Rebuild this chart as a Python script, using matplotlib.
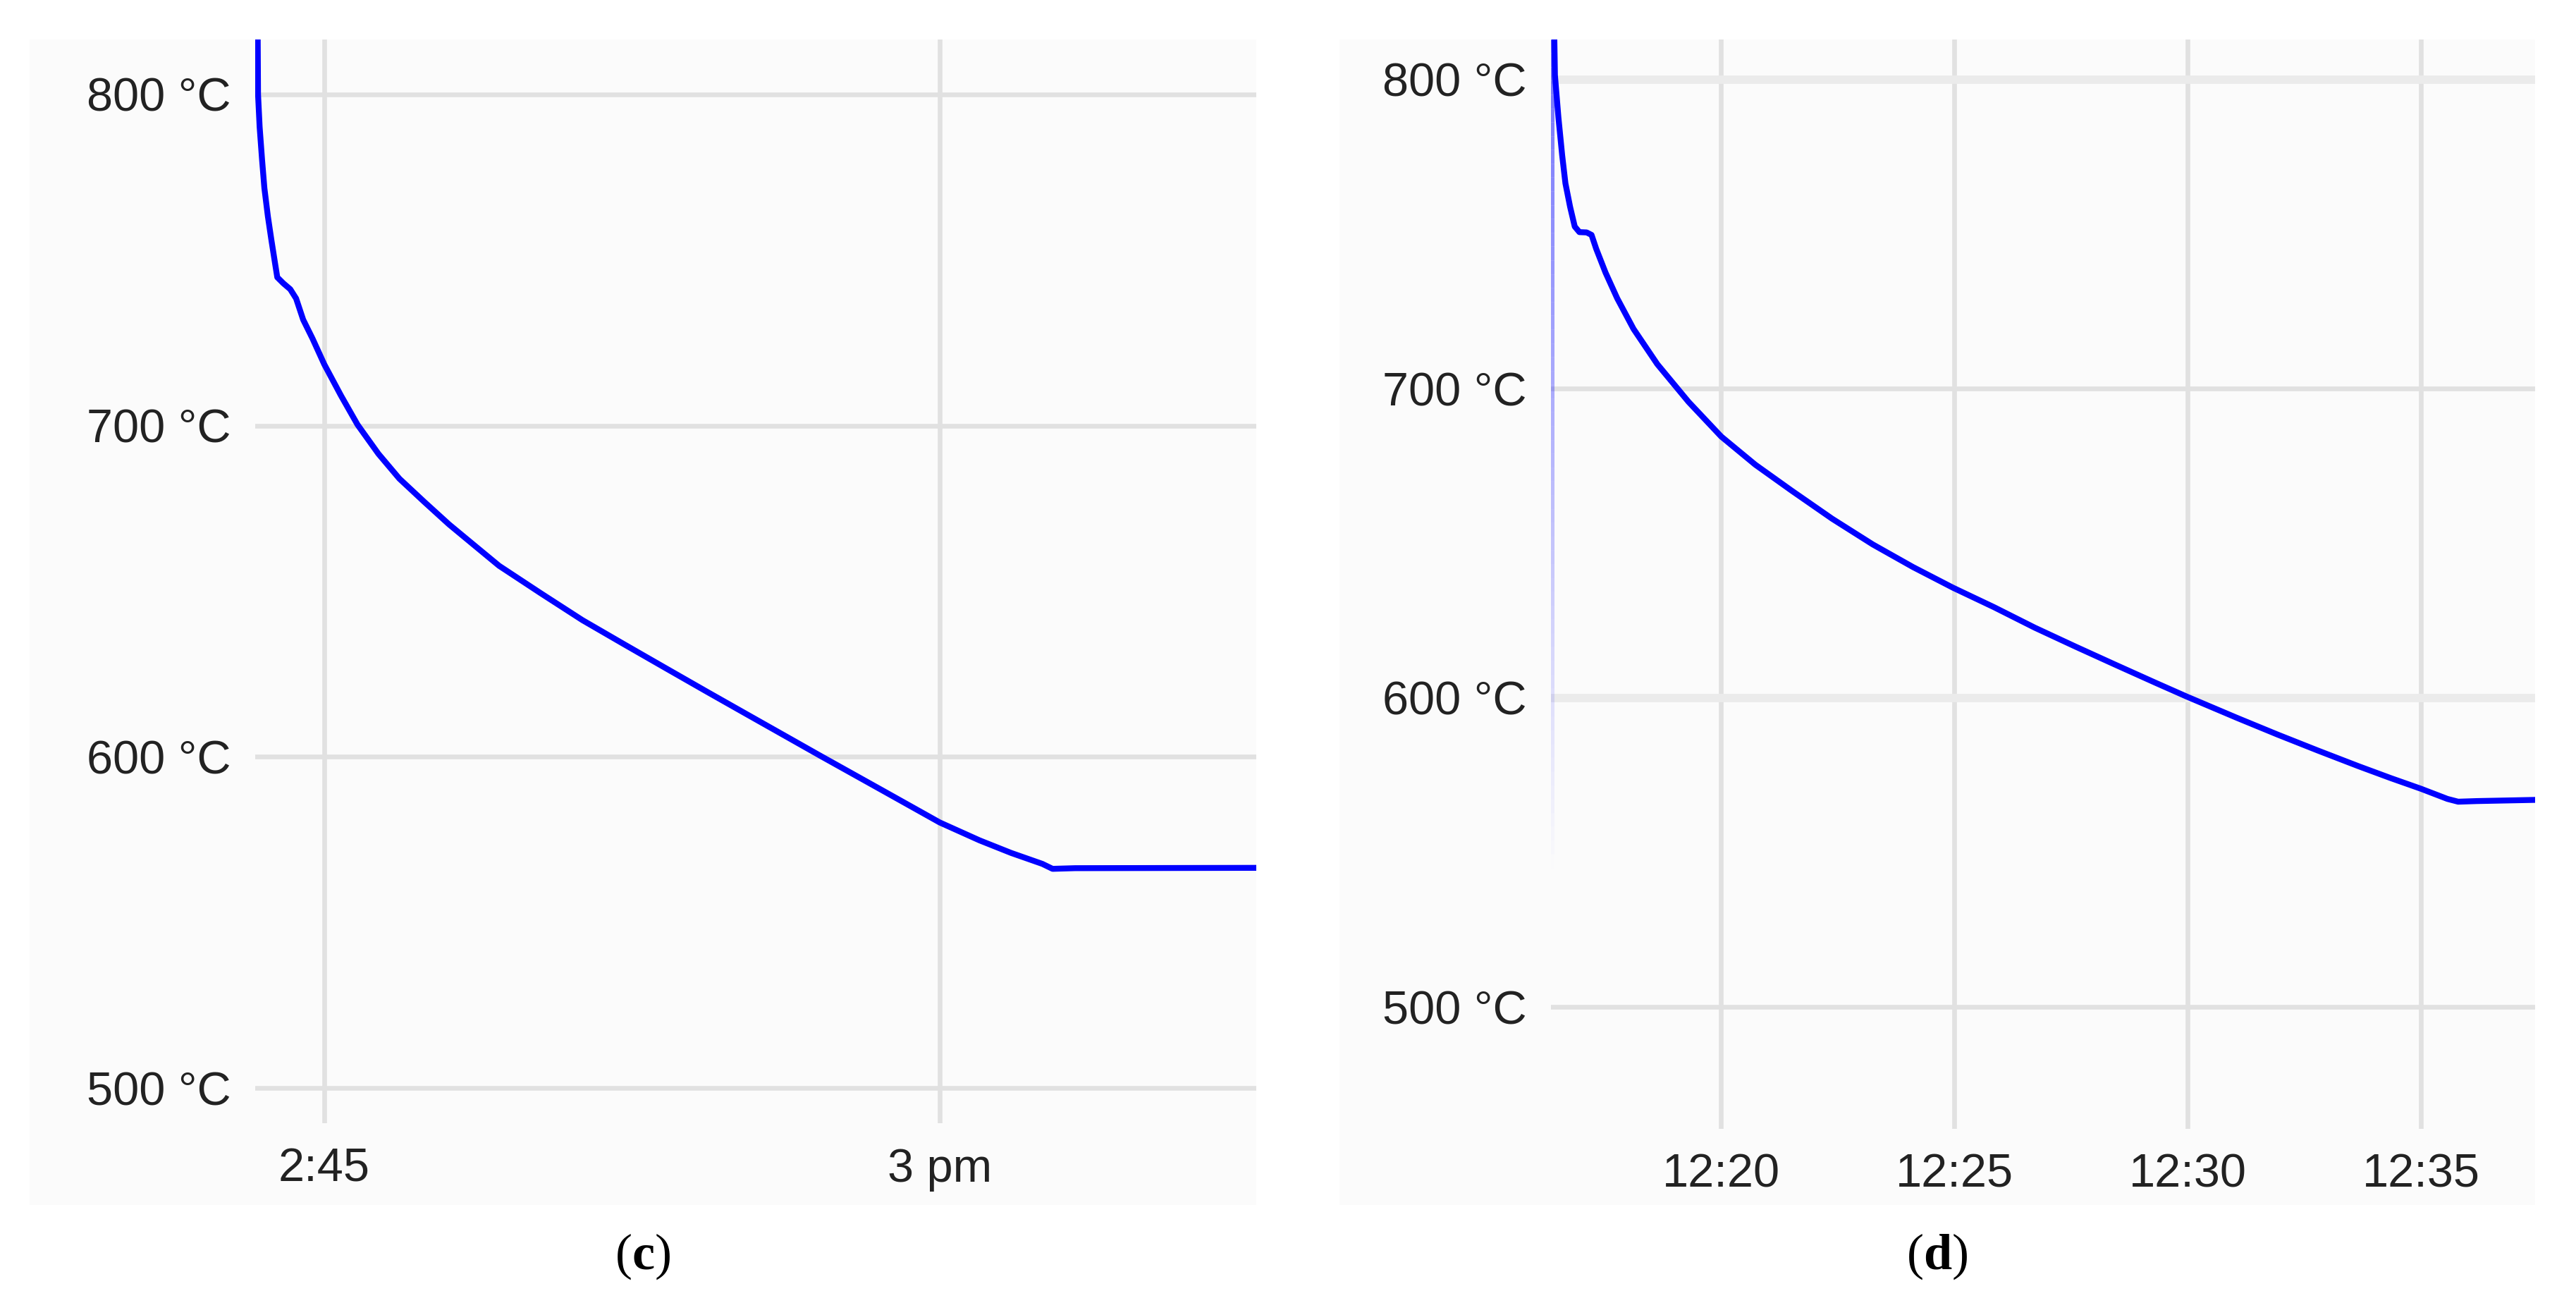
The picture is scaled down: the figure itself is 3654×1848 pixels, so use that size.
import numpy as np
import matplotlib
matplotlib.use("Agg")
import matplotlib.pyplot as plt
from matplotlib.patches import Rectangle
from matplotlib.collections import LineCollection

plt.rcParams['font.family'] = ['Liberation Sans', 'DejaVu Sans']
plt.rcParams['mathtext.fontset'] = 'custom'
plt.rcParams['mathtext.rm'] = 'Liberation Serif'
plt.rcParams['mathtext.bf'] = 'Liberation Serif:bold'

# ---------------- data ----------------
# Panel (c): time in minutes after 14:00, temperature in °C
c_time = [43.375, 43.385, 43.424, 43.483, 43.54, 43.625, 43.71, 43.80, 43.854,
          44.0, 44.17, 44.313, 44.485, 44.713, 45.0, 45.406, 45.81, 46.319,
          46.83, 47.436, 48.04, 48.654, 49.26, 50.277, 51.29, 52.307, 53.32,
          54.337, 55.35, 56.366, 57.08, 58.6, 60.0, 60.97, 61.74, 62.5, 62.75,
          63.3, 67.8]
c_temp = [822, 800.1, 790.2, 780.3, 771.7, 763.2, 756.1, 749.0, 744.8,
          743.0, 741.2, 738.4, 732.0, 726.3, 718.5, 709.1, 700.3, 691.5,
          684.0, 677.0, 670.2, 663.9, 657.7, 649.4, 641.3, 634.0, 626.8,
          619.6, 612.5, 605.4, 600.4, 589.9, 580.2, 574.8, 571.0, 567.7, 566.2,
          566.4, 566.5]
c_xticks = [45, 60]
c_xlabels = ["2:45", "3 pm"]

# Panel (d): time in minutes after 12:00, temperature in °C
d_time = [16.41, 16.435, 16.51, 16.59, 16.66, 16.76, 16.86, 16.96, 17.115,
          17.22, 17.32, 17.52, 17.77, 18.12, 18.63, 19.3, 20.0, 20.73, 21.51,
          22.38, 23.25, 24.11, 24.97, 25.85, 26.72, 27.59, 28.45, 29.32, 29.98,
          31.06, 31.93, 32.8, 33.66, 34.36, 35.0, 35.57, 35.8, 36.2, 37.5]
d_temp = [825, 801.4, 787.7, 775.5, 766.4, 758.8, 752.4, 750.6, 750.5,
          749.7, 745.2, 737.5, 729.2, 719.3, 707.9, 695.7, 684.5, 675.4, 667.0,
          657.9, 649.6, 642.3, 635.6, 629.3, 622.7, 616.6, 610.7, 604.8, 600.4,
          593.5, 588.1, 582.9, 577.9, 574.0, 570.6, 567.3, 566.4, 566.6, 567.0]
d_faint_time = 16.385
d_faint_range = [545, 813]
d_xticks = [20, 25, 30, 35]
d_xlabels = ["12:20", "12:25", "12:30", "12:35"]

y_ticks = [500, 600, 700, 800]
y_labels = ["500 °C", "600 °C", "700 °C", "800 °C"]
captions = ["c", "d"]

# ---------------- figure ----------------
W, H = 3655, 1848
fig = plt.figure(figsize=(W / 100, H / 100), dpi=100, facecolor='white')

def fx(px):
    return px / W

def fy(py):
    return 1 - py / H

BG = '#fbfbfb'
GRID = '#e1e1e1'
BLUE = '#0000ff'

# panel backgrounds (behind the axes)
for (x0, x1) in [(42, 1782), (1900, 3596)]:
    fig.patches.append(Rectangle((fx(x0), fy(1709)), fx(x1) - fx(x0), fy(56) - fy(1709),
                                 transform=fig.transFigure, facecolor=BG,
                                 edgecolor='none', zorder=-5))

ax_c = fig.add_axes([fx(362), fy(1593), fx(1782) - fx(362), fy(56) - fy(1593)])
ax_d = fig.add_axes([fx(2200), fy(1601), fx(3596) - fx(2200), fy(56) - fy(1601)])


def style(ax, xlim, ylim, xticks, xlabels):
    ax.set_zorder(2)
    ax.set_facecolor('none')
    ax.set_xlim(*xlim)
    ax.set_ylim(*ylim)
    ax.set_xticks(xticks, xlabels)
    ax.set_yticks(y_ticks, y_labels)
    ax.tick_params(length=0, pad=25, labelsize=48, labelcolor='#222222')
    for s in ax.spines.values():
        s.set_visible(False)
    ax.grid(True, color=GRID, linewidth=4.8)
    ax.set_axisbelow(True)


style(ax_c, (43.316, 67.715), (489.4, 816.6), c_xticks, c_xlabels)
style(ax_d, (16.35, 37.45), (460.6, 812.9), d_xticks, d_xlabels)

# right panel: 800 and 600 gridlines appear wider and lighter
for gl, val in zip(ax_d.get_ygridlines(), y_ticks):
    if val in (600, 800):
        gl.set_linewidth(8.5)
        gl.set_color('#ebebeb')

ax_c.plot(c_time, c_temp, color=BLUE, linewidth=6.0, solid_joinstyle='round',
          solid_capstyle='round', zorder=3)
ax_d.plot(d_time, d_temp, color=BLUE, linewidth=6.0, solid_joinstyle='round',
          solid_capstyle='round', zorder=3)

# faint fading vertical trace at the start of panel (d)
n = 60
edges = np.linspace(d_faint_range[0], d_faint_range[1], n + 1)
segs = [[(d_faint_time, edges[i]), (d_faint_time, edges[i + 1])] for i in range(n)]
alphas = 0.55 * (np.arange(n) + 0.5) / n
cols = [(0.0, 0.0, 1.0, a) for a in alphas]
ax_d.add_collection(LineCollection(segs, colors=cols, linewidths=3.6, zorder=2))

# captions
for cap, (x0, x1) in zip(captions, [(42, 1782), (1900, 3596)]):
    fig.text(fx((x0 + x1) / 2), fy(1782), r'($\mathbf{' + cap + r'}$)',
             ha='center', va='center', fontsize=52, family='Liberation Serif',
             color='black')

fig.savefig('out.png', dpi=100, facecolor='white')
